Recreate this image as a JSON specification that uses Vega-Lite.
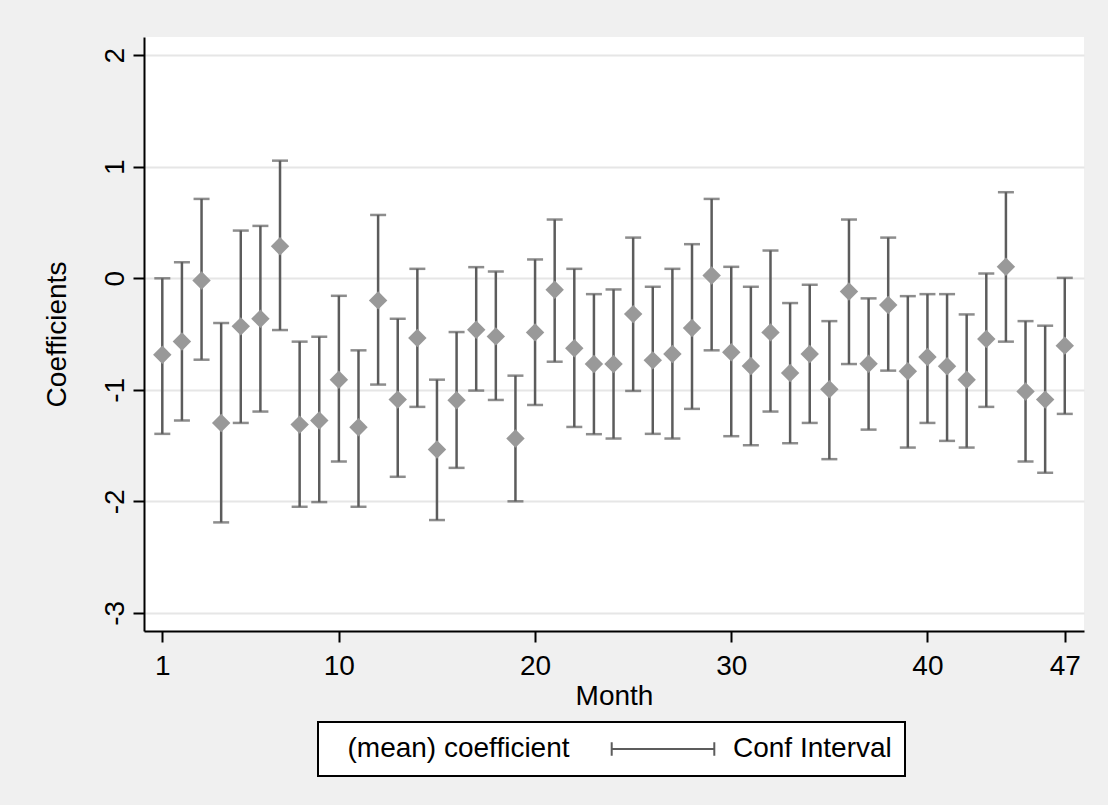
{
  "$schema": "https://vega.github.io/schema/vega-lite/v6.json",
  "width": 940,
  "height": 594,
  "autosize": {"type": "none"},
  "padding": {"left": 144, "top": 37, "right": 24, "bottom": 174},
  "background": "#f0f0f0",
  "config": {
    "view": {"stroke": null, "fill": "white"},
    "font": "Liberation Sans",
    "axis": {
      "labelFont": "Liberation Sans",
      "titleFont": "Liberation Sans",
      "labelFontSize": 28,
      "titleFontSize": 28,
      "titleFontWeight": "normal",
      "labelColor": "black",
      "titleColor": "black",
      "domainColor": "black",
      "domainWidth": 2,
      "tickColor": "black",
      "tickWidth": 2,
      "tickSize": 11
    }
  },
  "data": {
    "values": [
      {"month": 1, "coef": -0.685, "lo": -1.395, "hi": 0.0},
      {"month": 2, "coef": -0.566, "lo": -1.276, "hi": 0.145},
      {"month": 3, "coef": -0.02, "lo": -0.73, "hi": 0.712},
      {"month": 4, "coef": -1.297, "lo": -2.189, "hi": -0.401},
      {"month": 5, "coef": -0.431, "lo": -1.297, "hi": 0.428},
      {"month": 6, "coef": -0.363, "lo": -1.195, "hi": 0.47},
      {"month": 7, "coef": 0.288, "lo": -0.464, "hi": 1.055},
      {"month": 8, "coef": -1.312, "lo": -2.049, "hi": -0.568},
      {"month": 9, "coef": -1.276, "lo": -2.007, "hi": -0.524},
      {"month": 10, "coef": -0.909, "lo": -1.643, "hi": -0.157},
      {"month": 11, "coef": -1.336, "lo": -2.049, "hi": -0.646},
      {"month": 12, "coef": -0.198, "lo": -0.953, "hi": 0.568},
      {"month": 13, "coef": -1.088, "lo": -1.78, "hi": -0.363},
      {"month": 14, "coef": -0.536, "lo": -1.153, "hi": 0.085},
      {"month": 15, "coef": -1.535, "lo": -2.168, "hi": -0.909},
      {"month": 16, "coef": -1.094, "lo": -1.7, "hi": -0.482},
      {"month": 17, "coef": -0.461, "lo": -1.007, "hi": 0.1},
      {"month": 18, "coef": -0.521, "lo": -1.091, "hi": 0.061},
      {"month": 19, "coef": -1.437, "lo": -2.0, "hi": -0.873},
      {"month": 20, "coef": -0.485, "lo": -1.136, "hi": 0.169},
      {"month": 21, "coef": -0.103, "lo": -0.748, "hi": 0.527},
      {"month": 22, "coef": -0.628, "lo": -1.333, "hi": 0.085},
      {"month": 23, "coef": -0.769, "lo": -1.398, "hi": -0.142},
      {"month": 24, "coef": -0.769, "lo": -1.437, "hi": -0.1},
      {"month": 25, "coef": -0.321, "lo": -1.01, "hi": 0.365},
      {"month": 26, "coef": -0.736, "lo": -1.395, "hi": -0.076},
      {"month": 27, "coef": -0.679, "lo": -1.437, "hi": 0.085},
      {"month": 28, "coef": -0.446, "lo": -1.171, "hi": 0.306},
      {"month": 29, "coef": 0.025, "lo": -0.646, "hi": 0.712},
      {"month": 30, "coef": -0.664, "lo": -1.416, "hi": 0.103},
      {"month": 31, "coef": -0.786, "lo": -1.497, "hi": -0.076},
      {"month": 32, "coef": -0.485, "lo": -1.195, "hi": 0.249},
      {"month": 33, "coef": -0.849, "lo": -1.479, "hi": -0.222},
      {"month": 34, "coef": -0.679, "lo": -1.297, "hi": -0.058},
      {"month": 35, "coef": -0.995, "lo": -1.622, "hi": -0.384},
      {"month": 36, "coef": -0.118, "lo": -0.769, "hi": 0.527},
      {"month": 37, "coef": -0.766, "lo": -1.357, "hi": -0.18},
      {"month": 38, "coef": -0.24, "lo": -0.828, "hi": 0.365},
      {"month": 39, "coef": -0.834, "lo": -1.518, "hi": -0.16},
      {"month": 40, "coef": -0.706, "lo": -1.297, "hi": -0.142},
      {"month": 41, "coef": -0.789, "lo": -1.458, "hi": -0.142},
      {"month": 42, "coef": -0.909, "lo": -1.518, "hi": -0.324},
      {"month": 43, "coef": -0.545, "lo": -1.153, "hi": 0.043},
      {"month": 44, "coef": 0.103, "lo": -0.568, "hi": 0.772},
      {"month": 45, "coef": -1.016, "lo": -1.643, "hi": -0.384},
      {"month": 46, "coef": -1.088, "lo": -1.744, "hi": -0.425},
      {"month": 47, "coef": -0.604, "lo": -1.216, "hi": 0.004}
    ]
  },
  "layer": [
    {
      "mark": {"type": "errorbar", "thickness": 2.5, "ticks": {"size": 16, "thickness": 2.5}},
      "encoding": {
        "x": {
          "field": "month", "type": "quantitative",
          "scale": {"domain": [0.067, 47.98], "nice": false, "zero": false},
          "axis": {"values": [1, 10, 20, 30, 40, 47], "grid": false, "labelPadding": 10, "titlePadding": 2, "labelFlush": false},
          "title": "Month"
        },
        "y": {
          "field": "lo", "type": "quantitative",
          "scale": {"domain": [-3.163, 2.164], "nice": false, "zero": false},
          "axis": {"values": [-3, -2, -1, 0, 1, 2], "labelExpr": "'' + datum.value", "grid": true, "gridColor": "#e6e6e6", "gridWidth": 2, "labelAngle": -90, "labelAlign": "center", "labelBaseline": "alphabetic", "labelPadding": 10, "titlePadding": 30, "labelFlush": false},
          "title": "Coefficients"
        },
        "y2": {"field": "hi"},
        "color": {
          "datum": "Conf Interval",
          "scale": {"domain": ["Conf Interval"], "range": ["#5c5c5c"]},
          "legend": {
            "orient": "none",
            "legendX": 174,
            "legendY": 685,
            "direction": "horizontal",
            "title": "(mean) coefficient",
            "titleOrient": "left",
            "titleFont": "Liberation Sans",
            "titleFontSize": 28,
            "titleFontWeight": "normal",
            "titleColor": "black",
            "titleLimit": 0,
            "titlePadding": 58,
            "labelFont": "Liberation Sans",
            "labelFontSize": 28,
            "labelColor": "black",
            "labelLimit": 0,
            "labelOffset": 55.5,
            "symbolType": "M-3.8,-0.5L-3.8,0.5M-3.8,0L3.8,0M3.8,-0.5L3.8,0.5",
            "symbolSize": 729,
            "symbolOffset": 37,
            "symbolStrokeColor": "#707070",
            "symbolStrokeWidth": 2,
            "symbolFillColor": "transparent",
            "strokeColor": "black",
            "fillColor": "white",
            "padding": 12.5,
            "encode": {
              "legend": {"update": {"strokeWidth": {"value": 2}}},
              "title": {"update": {"dx": {"value": 17}}}
            }
          }
        }
      }
    },
    {
      "mark": {"type": "point", "shape": "diamond", "filled": true, "size": 340, "color": "#999999", "opacity": 1},
      "encoding": {
        "x": {"field": "month", "type": "quantitative", "title": "Month"},
        "y": {"field": "coef", "type": "quantitative", "title": "Coefficients"}
      }
    }
  ]
}
